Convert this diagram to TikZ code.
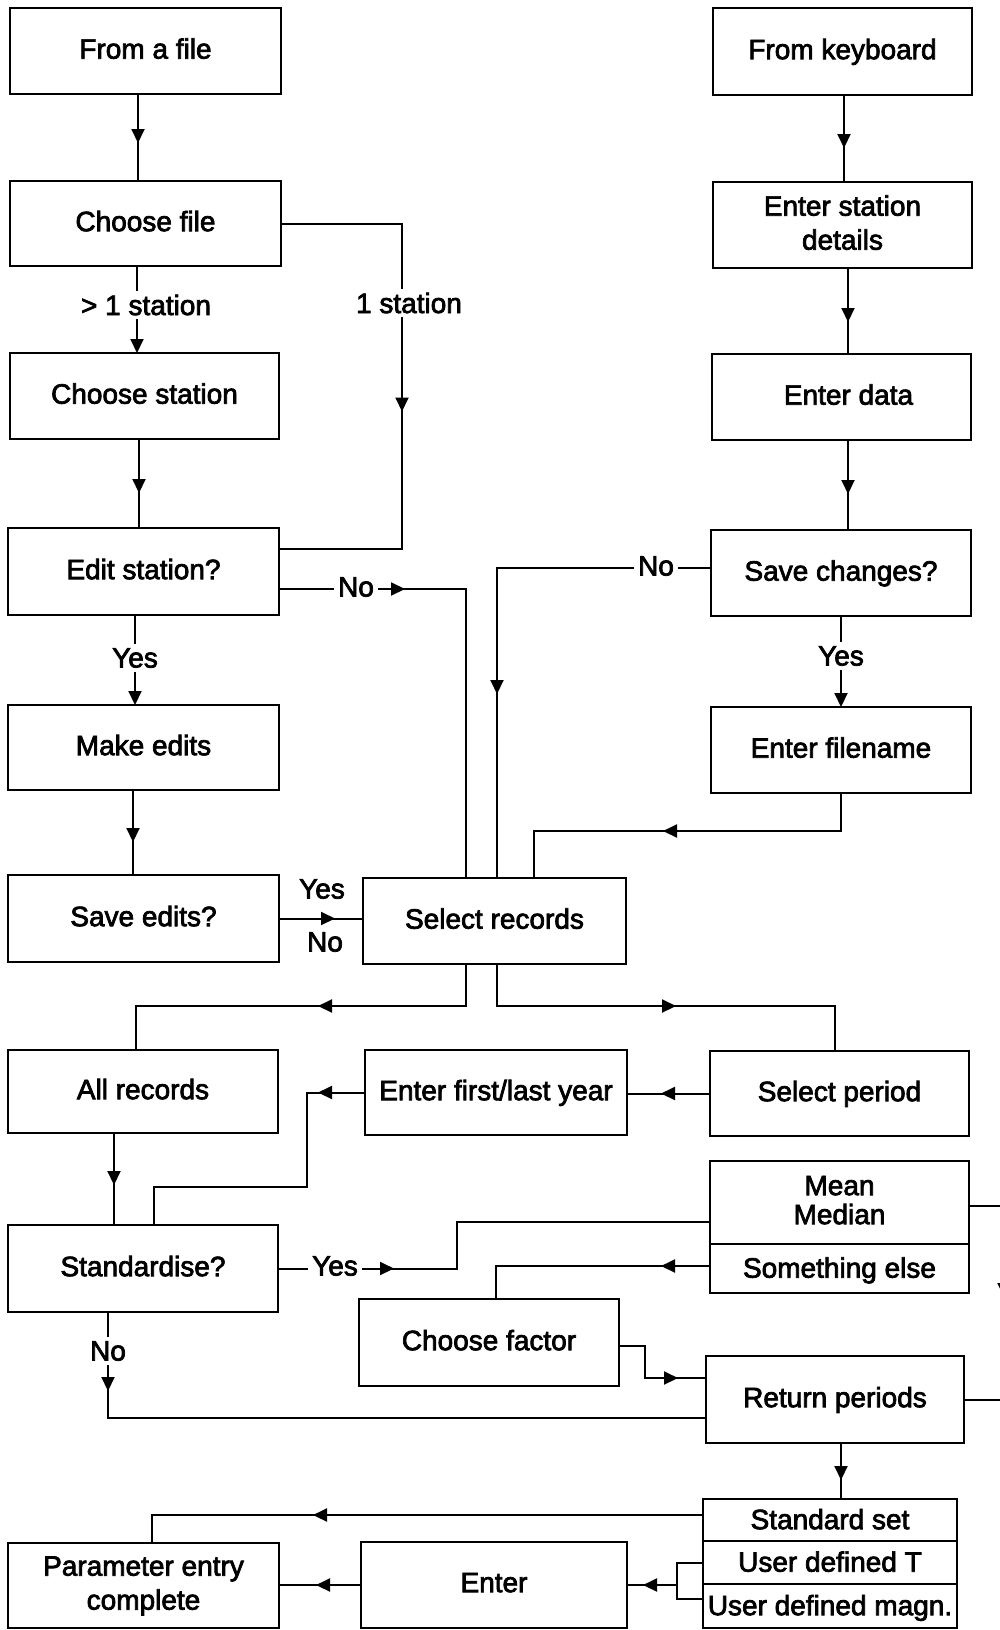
\documentclass[tikz,border=0pt]{standalone}
\usepackage{fontspec}
\setmainfont{Liberation Sans}[FakeBold=2.6]
\usetikzlibrary{arrows.meta,decorations.markings}
\tikzset{
  tri/.tip={Triangle[width=13pt,length=14pt]},
  ln/.style={line width=2pt},
  ah/.style={postaction={decorate,decoration={markings,mark=at position #1 with {\arrow{tri}}}}},
  box/.style={draw, line width=2pt, inner sep=0pt, outer sep=0pt, align=center,
              font=\fontsize{28}{34}\selectfont, text depth=5pt},
  lbl/.style={fill=white, inner sep=4pt, font=\fontsize{28}{34}\selectfont},
}
\begin{document}
\begin{tikzpicture}[x=1pt,y=-1pt]
\useasboundingbox (0,0) rectangle (999,1630);
% left column
\node[box, minimum width=271pt, minimum height=86pt] (fromfile) at (145.5,51) {From a file};
\node[box, minimum width=271pt, minimum height=85pt] (choosefile) at (145.5,223.5) {Choose file};
\node[box, minimum width=269pt, minimum height=86pt] (choosestation) at (144.5,396) {Choose station};
\node[box, minimum width=271pt, minimum height=87pt] (editstation) at (143.5,571.5) {Edit station?};
\node[box, minimum width=271pt, minimum height=85pt] (makeedits) at (143.5,747.5) {Make edits};
\node[box, minimum width=271pt, minimum height=87pt] (saveedits) at (143.5,918.5) {Save edits?};
\node[box, minimum width=263pt, minimum height=86pt] (selectrecords) at (494.5,921) {Select records};
\node[box, minimum width=270pt, minimum height=83pt] (allrecords) at (143,1091.5) {All records};
\node[box, minimum width=262pt, minimum height=85pt] (enterfirst) at (496,1092.5) {Enter first/last year};
\node[box, minimum width=259pt, minimum height=85pt] (selectperiod) at (839.5,1093.5) {Select period};
\node[box, minimum width=270pt, minimum height=87pt] (standardise) at (143,1268.5) {Standardise?};
\node[box, minimum width=259pt, minimum height=83pt] (meantop) at (839.5,1202.5) {Mean\\[-5pt]Median};
\node[box, minimum width=259pt, minimum height=49pt, text depth=2pt] (meanbot) at (839.5,1268.5) {Something else};
\node[box, minimum width=260pt, minimum height=87pt] (choosefactor) at (489,1342.5) {Choose factor};
\node[box, minimum width=258pt, minimum height=87pt] (returnperiods) at (835,1399.5) {Return periods};
\node[box, minimum width=254pt, minimum height=42pt, text depth=2pt] (stdA) at (830,1520) {Standard set};
\node[box, minimum width=254pt, minimum height=43pt, text depth=2pt] (stdB) at (830,1562.5) {User defined T};
\node[box, minimum width=254pt, minimum height=44pt, text depth=2pt] (stdC) at (830,1606) {User defined magn.};
\node[box, minimum width=266pt, minimum height=86pt] (enter) at (494,1585) {Enter};
\node[box, minimum width=271pt, minimum height=85pt] (paramentry) at (143.5,1585.5) {Parameter entry\\complete};
% right column
\node[box, minimum width=259pt, minimum height=87pt] (fromkeyboard) at (842.5,51.5) {From keyboard};
\node[box, minimum width=259pt, minimum height=86pt] (enterstation) at (842.5,225) {Enter station\\details};
\node[box, minimum width=259pt, minimum height=86pt] (enterdata) at (841.5,397) {\hspace*{14pt}Enter data};
\node[box, minimum width=260pt, minimum height=86pt] (savechanges) at (841,573) {Save changes?};
\node[box, minimum width=260pt, minimum height=86pt] (enterfilename) at (841,750) {Enter filename};

% connectors
\draw[ln, ah=49pt] ([xshift=-7.5pt]fromfile.south) -- ([xshift=-7.5pt]choosefile.north);
\draw[ln, -{tri}] ([xshift=-8.5pt]choosefile.south) -- ([xshift=-7.5pt]choosestation.north);
\draw[ln, ah=309pt] (choosefile.east) -- (402,223.5) -- (402,549) -- ([yshift=22.5pt]editstation.east);
\draw[ln, ah=54pt] ([xshift=-5.5pt]choosestation.south) -- ([xshift=-4.5pt]editstation.north);
\draw[ln, ah=126pt] ([yshift=-17.5pt]editstation.east) -- (466,589) -- ([xshift=-28.5pt]selectrecords.north);
\draw[ln, -{tri}] ([xshift=-8.5pt]editstation.south) -- ([xshift=-8.5pt]makeedits.north);
\draw[ln, ah=52pt] ([xshift=-10.5pt]makeedits.south) -- ([xshift=-10.5pt]saveedits.north);
\draw[ln, ah=56pt] (saveedits.east) -- (saveedits.east -| selectrecords.west);
\draw[ln, ah=340pt] ([yshift=5pt]savechanges.west) -- (497,568) -- ([xshift=2.5pt]selectrecords.north);
\draw[ln, ah=53pt] ([xshift=1.5pt]fromkeyboard.south) -- ([xshift=1.5pt]enterstation.north);
\draw[ln, ah=54pt] ([xshift=5.5pt]enterstation.south) -- ([xshift=6.5pt]enterdata.north);
\draw[ln, ah=54pt] ([xshift=6.5pt]enterdata.south) -- ([xshift=7pt]savechanges.north);
\draw[ln, -{tri}] (savechanges.south) -- (enterfilename.north);
\draw[ln, ah=216pt] (enterfilename.south) -- (841,831) -- (534,831) -- ([xshift=39.5pt]selectrecords.north);
\draw[ln, ah=190pt] ([xshift=-28.5pt]selectrecords.south) -- (466,1006) -- (136,1006) -- ([xshift=-7pt]allrecords.north);
\draw[ln, ah=221pt] ([xshift=2.5pt]selectrecords.south) -- (497,1006) -- (835,1006) -- ([xshift=-4.5pt]selectperiod.north);
\draw[ln, ah=49pt] (selectperiod.west) -- (selectperiod.west -| enterfirst.east);
\draw[ln, ah=47pt] (enterfirst.west) -- (307,1092.5) -- (307,1187) -- (154,1187) -- ([xshift=11pt]standardise.north);
\draw[ln, ah=52pt] ([xshift=-29pt]allrecords.south) -- ([xshift=-29pt]standardise.north);
\draw[ln, ah=116pt] (standardise.east) -- (457,1268.5) -- (457,1222) -- ([yshift=-19.5pt]meantop.west);
\draw[ln, ah=49pt] ([yshift=2.5pt]meanbot.west) -- (496,1266) -- ([xshift=7pt]choosefactor.north);
\draw[ln, ah=91pt] ([yshift=-3.5pt]choosefactor.east) -- (645,1346) -- (645,1378) -- ([yshift=21.5pt]returnperiods.west);
\draw[ln, ah=79pt] ([xshift=-35pt]standardise.south) -- (108,1418) -- ([yshift=-18.5pt]returnperiods.west);
\draw[ln, ah=126pt] ([yshift=-3.5pt]meantop.east) -- (1004,1206) -- (1004,1399.5) -- (returnperiods.east);
\draw[ln, ah=37pt] ([xshift=6pt]returnperiods.south) -- ([xshift=11pt]stdA.north);
\draw[ln, ah=390pt] ([yshift=5pt]stdA.west) -- (152,1515) -- ([xshift=8.5pt]paramentry.north);
\coordinate (brk) at (677,1585);
\draw[ln] (stdB.west) -- (677,1562.5) -- (677,1599) -- ([yshift=7pt]stdC.west);
\draw[ln, ah=34pt] (brk) -- (brk -| enter.east);
\draw[ln, ah=45pt] (enter.west) -- (enter.west -| paramentry.east);

% labels
\node[lbl] (lmore) at (146,305) {> 1 station};
\node[lbl] (lone) at (409,303) {1 station};
\node[lbl] (lno1) at (356,587) {No};
\node[lbl] (lyes1) at (135,658) {Yes};
\node[lbl, fill=none] (lyes2) at (322,889) {Yes};
\node[lbl, fill=none] (lno2) at (325,942) {No};
\node[lbl] (lno3) at (656,566) {No};
\node[lbl] (lyes3) at (841,656) {Yes};
\node[lbl] (lyes4) at (335,1266) {Yes};
\node[lbl] (lno4) at (108,1351) {No};
\end{tikzpicture}
\end{document}
